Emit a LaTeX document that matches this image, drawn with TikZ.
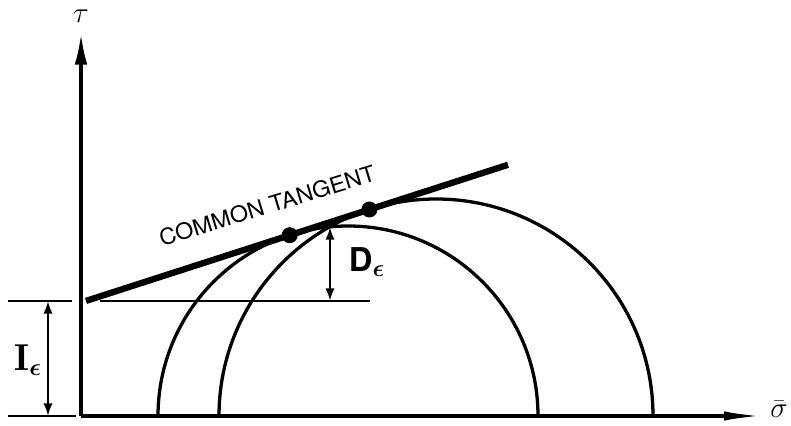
\documentclass[tikz,border=0pt]{standalone}
\usepackage{amsmath,bm}
\usepackage{fontspec}
\newfontfamily\labsans{TeX Gyre Heros}
\usetikzlibrary{arrows.meta,calc}
\begin{document}
\begin{tikzpicture}[x=0.03cm,y=0.03cm,
  curve/.style={line width=2.8pt},
  thin/.style={line width=1.8pt},
  tang/.style={line width=5.4pt},
  dim/.style={line width=2pt,{Latex[length=0.38cm,width=0.28cm]}-{Latex[length=0.38cm,width=0.28cm]}},
  dot/.style={circle,fill=black,inner sep=0pt,minimum size=0.48cm},
  lab/.style={inner sep=0pt}]
\useasboundingbox (0,-10) rectangle (791,416);
% axes
\coordinate (O) at (81,0);
\coordinate (ytip) at (81,383);
\coordinate (xtip) at (764,0);
\draw[line width=3pt,-{Latex[length=0.95cm,width=0.38cm]}] (O) -- (ytip);
\draw[line width=3pt,-{Latex[length=1.2cm,width=0.28cm]}] (O) -- (xtip);
\node[lab] (tau) at (81,400) {\fontsize{32}{34}\selectfont$\tau$};
\node[lab] (sig) at (779,7) {\fontsize{30}{32}\selectfont$\bar{\sigma}$};
% circles
\coordinate (c1l) at (158,0);
\coordinate (c2l) at (219,0);
\draw[curve] (c1l) arc[start angle=180,end angle=0,radius=190];
\draw[curve] (c2l) arc[start angle=180,end angle=0,radius=217];
% horizontal reference lines
\coordinate (h0) at (8,115);
\coordinate (h1) at (72,115);
\coordinate (h2) at (100,115);
\coordinate (h3) at (370,115);
\coordinate (b0) at (8,0);
\coordinate (b1) at (76,0);
\draw[thin] (h0) -- (h1);
\draw[thin] (h2) -- (h3);
\draw[thin] (b0) -- (b1);
% common tangent
\coordinate (t0) at (86,115.1);
\coordinate (t1) at (508,251.2);
\draw[tang] (t0) -- (t1);
\node[dot] (p1) at (289.7,180.8) {};
\node[dot] (p2) at (369.4,206.5) {};
\node[lab,rotate=17,anchor=south west] (ct) at (162,169) {\labsans\fontsize{19}{21}\selectfont\scalebox{1.05}[1]{COMMON TANGENT}};
% dimensions
\coordinate (i0) at (48,115);
\coordinate (i1) at (48,0);
\draw[dim] (i0) -- (i1);
\node[lab] (Ie) at (28,56) {\fontsize{32}{34}\selectfont$\mathbf{I}_{\bm{\epsilon}}$};
\coordinate (d0) at (330,189);
\coordinate (d1) at (330,115);
\draw[dim] (d0) -- (d1);
\node[lab] (De) at (367,154) {\labsans\bfseries\fontsize{28}{30}\selectfont D$_{\bm{\epsilon}}$};
\end{tikzpicture}
\end{document}
